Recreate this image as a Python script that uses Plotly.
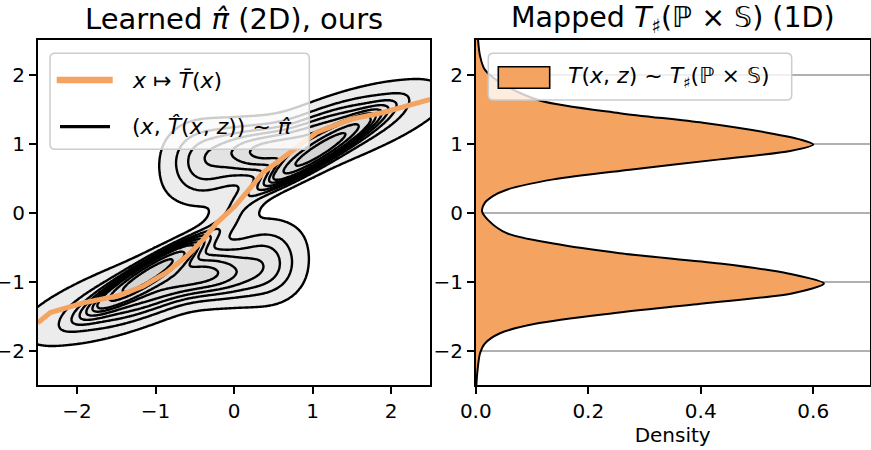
import numpy as np
import plotly.graph_objects as go

# ---------------- data ----------------
# conditional-mean curve x -> T̄(x)
mean_x = [-2.50, -2.34, -1.92, -1.49, -1.16, -0.86, -0.60, -0.39, -0.22, 0.01,
          0.16, 0.37, 0.54, 0.75, 1.05, 1.48, 1.90, 2.50]
mean_y = [-1.60, -1.45, -1.31, -1.21, -1.07, -0.87, -0.63, -0.39, -0.15, 0.09,
          0.29, 0.58, 0.72, 0.91, 1.16, 1.35, 1.45, 1.64]

# 1D density of the mapped samples (horizontal KDE)
dens_y = [2.50, 2.27, 2.07, 1.85, 1.62, 1.44, 1.30, 1.15, 1.06, 0.985, 0.89, 0.77,
          0.62, 0.48, 0.33, 0.24, 0.14, 0.02, -0.11, -0.30, -0.45, -0.59, -0.74,
          -0.88, -1.03, -1.17, -1.32, -1.46, -1.61, -1.75, -1.90, -2.04, -2.29, -2.50]
dens_v = [0.004, 0.0075, 0.016, 0.05, 0.115, 0.256, 0.404, 0.523, 0.576, 0.600,
          0.559, 0.434, 0.274, 0.138, 0.055, 0.031, 0.016, 0.011, 0.022, 0.055,
          0.138, 0.256, 0.434, 0.553, 0.619, 0.564, 0.404, 0.244, 0.108, 0.043,
          0.016, 0.0075, 0.003, 0.001]

# 2D joint density modelled as a Gaussian mixture (components estimated from the contours)
# upper blob: ridge, medium, envelope, lobe, lobe-extension; lower blob mirrored; neck
comp_w = [0.15, 0.12, 0.11, 0.07, 0.05,
          0.15, 0.12, 0.11, 0.07, 0.05,
          0.015]
comp_mx = [1.07, 1.00, 1.20, 0.20, -0.45,
           -1.07, -1.00, -1.20, -0.20, 0.45,
           0.00]
comp_my = [0.88, 1.12, 1.12, 0.95, 0.72,
           -0.88, -1.12, -1.12, -0.95, -0.72,
           0.00]
comp_s1 = [0.50, 0.70, 1.00, 0.40, 0.28,
           0.50, 0.70, 1.00, 0.40, 0.28,
           0.35]
comp_s2 = [0.09, 0.20, 0.26, 0.22, 0.33,
           0.09, 0.20, 0.26, 0.22, 0.33,
           0.14]
comp_ang = [36, 26, 21, 0, 0,
            36, 26, 21, 0, 0,
            52]

kde_levels = 10
kde_thresh = 0.05

x_ticks = [-2, -1, 0, 1, 2]
y_ticks = [-2, -1, 0, 1, 2]
dens_ticks = [0.0, 0.2, 0.4, 0.6]

# ---------------- density grid ----------------
gx = np.linspace(-3.2, 3.2, 321)
gy = np.linspace(-3.2, 3.2, 321)
X, Y = np.meshgrid(gx, gy)
Z = np.zeros_like(X)
for w, mx, my, s1, s2, a in zip(comp_w, comp_mx, comp_my, comp_s1, comp_s2, comp_ang):
    t = np.deg2rad(a)
    dx, dy = X - mx, Y - my
    u = dx * np.cos(t) + dy * np.sin(t)
    v = -dx * np.sin(t) + dy * np.cos(t)
    Z += w * np.exp(-0.5 * (u / s1) ** 2 - 0.5 * (v / s2) ** 2) / (2 * np.pi * s1 * s2)

# iso-proportion transform (as seaborn's kdeplot levels)
flat = Z.ravel()
order = np.argsort(flat)
cum = np.cumsum(flat[order])
cum /= cum[-1]
Q = np.empty_like(flat)
Q[order] = cum
Q = Q.reshape(Z.shape)

step = (1 - kde_thresh) / (kde_levels - 1)
grays = ["#ffffff", "#ececec", "#e9e9e9", "#e6e6e6", "#e3e3e3", "#e0e0e0",
         "#dddddd", "#dadada", "#d7d7d7", "#d4d4d4"]
cscale = [[i / (len(grays) - 1), c] for i, c in enumerate(grays)]

ORANGE = "#f4a460"
FONT = "DejaVu Sans"
W, H = 871, 450


def px(x):
    return x / W


def py(y):
    return 1 - y / H


fig = go.Figure()
fig.add_trace(go.Contour(
    x=gx, y=gy, z=Q,
    contours=dict(start=kde_thresh, end=1 - step / 2, size=step, coloring="fill"),
    colorscale=cscale, zmin=0, zmax=1, showscale=False,
    line=dict(color="black", width=2.4, smoothing=1),
    hoverinfo="skip", showlegend=False, xaxis="x", yaxis="y"))
fig.add_trace(go.Scatter(
    x=mean_x, y=mean_y, mode="lines", line=dict(color=ORANGE, width=5),
    showlegend=False, xaxis="x", yaxis="y"))
fig.add_trace(go.Scatter(
    x=dens_v, y=dens_y, mode="lines", fill="tozerox",
    fillcolor=ORANGE, line=dict(color="black", width=2, shape="spline", smoothing=0.8),
    showlegend=False, xaxis="x2", yaxis="y2"))

axis_common = dict(showline=True, mirror=True, linecolor="black", linewidth=1.6,
                   ticks="outside", ticklen=7, tickwidth=1.6, tickcolor="black",
                   zeroline=False, automargin=False,
                   tickfont=dict(family=FONT, size=20, color="black"))

ytop = py(40)
ybot = py(385)


def rounded_box(x0, y0, x1, y1, r=5):
    X0, X1 = px(x0), px(x1)
    Y0, Y1 = py(y0), py(y1)
    rx, ry = r / W, r / H
    return (f"M {X0+rx},{Y0} L {X1-rx},{Y0} Q {X1},{Y0} {X1},{Y0-ry} "
            f"L {X1},{Y1+ry} Q {X1},{Y1} {X1-rx},{Y1} L {X0+rx},{Y1} "
            f"Q {X0},{Y1} {X0},{Y1+ry} L {X0},{Y0-ry} Q {X0},{Y0} {X0+rx},{Y0} Z")


shapes = [
    # left legend frame and samples
    dict(type="path", path=rounded_box(50, 53.3, 309.3, 149.3), xref="paper", yref="paper",
         fillcolor="rgba(255,255,255,0.8)", line=dict(color="#cccccc", width=1.5)),
    dict(type="line", x0=px(56.7), x1=px(112.7), y0=py(80), y1=py(80), xref="paper",
         yref="paper", line=dict(color=ORANGE, width=6.5)),
    dict(type="line", x0=px(60), x1=px(110), y0=py(126.7), y1=py(126.7), xref="paper",
         yref="paper", line=dict(color="black", width=3.3)),
    # right legend frame and patch
    dict(type="path", path=rounded_box(488.3, 53.3, 791.7, 100), xref="paper", yref="paper",
         fillcolor="rgba(255,255,255,0.8)", line=dict(color="#cccccc", width=1.5)),
    dict(type="rect", x0=px(498.3), x1=px(549.7), y0=py(66.7), y1=py(88.3), xref="paper",
         yref="paper", fillcolor=ORANGE, line=dict(color="black", width=1.6)),
]

annotations = [
    dict(text="Learned <i>π̂</i> (2D), ours", x=px((37.8 + 430.3) / 2), y=py(19),
         xref="paper", yref="paper", showarrow=False, xanchor="center", yanchor="middle",
         font=dict(family=FONT, size=29, color="black")),
    dict(text="Mapped <i>T</i><sub>♯</sub>(ℙ × 𝕊) (1D)", x=px((475.8 + 869.5) / 2),
         y=py(19), xref="paper", yref="paper", showarrow=False, xanchor="center",
         yanchor="middle", font=dict(family=FONT, size=28.5, color="black")),
    dict(text="<i>x</i> ↦ <i>T̄</i>(<i>x</i>)", x=px(130), y=py(80), xref="paper",
         yref="paper", showarrow=False, xanchor="left", yanchor="middle",
         font=dict(family=FONT, size=22, color="black")),
    dict(text="(<i>x</i>, <i>T̂</i>(<i>x</i>, <i>z</i>)) ~ <i>π̂</i>", x=px(130), y=py(126.7),
         xref="paper", yref="paper", showarrow=False, xanchor="left", yanchor="middle",
         font=dict(family=FONT, size=22, color="black")),
    dict(text="<i>T</i>(<i>x</i>, <i>z</i>) ~ <i>T</i><sub>♯</sub>(ℙ × 𝕊)", x=px(566),
         y=py(77), xref="paper", yref="paper", showarrow=False, xanchor="left",
         yanchor="middle", font=dict(family=FONT, size=22, color="black")),
]

fig.update_layout(
    width=W, height=H, margin=dict(l=0, r=0, t=0, b=0, autoexpand=False),
    paper_bgcolor="white", plot_bgcolor="white",
    font=dict(family=FONT, color="black"), showlegend=False,
    xaxis=dict(domain=[px(37.8), px(430.3)], range=[-2.5, 2.5], tickvals=x_ticks,
               ticktext=["−2", "−1", "0", "1", "2"], showgrid=False, anchor="y", **axis_common),
    yaxis=dict(domain=[ybot, ytop], range=[-2.5, 2.5], tickvals=y_ticks,
               ticktext=["−2", "−1", "0", "1", "2"], showgrid=False, anchor="x", **axis_common),
    xaxis2=dict(domain=[px(475.8), px(869.5)], range=[0, 0.7], tickvals=dens_ticks,
                ticktext=["0.0", "0.2", "0.4", "0.6"], showgrid=False, anchor="y2",
                title=dict(text="Density", font=dict(family=FONT, size=20), standoff=4),
                **axis_common),
    yaxis2=dict(domain=[ybot, ytop], range=[-2.5, 2.5], tickvals=y_ticks,
                ticktext=["−2", "−1", "0", "1", "2"], showgrid=True, gridcolor="#b0b0b0",
                gridwidth=1.6, anchor="x2", **axis_common),
    shapes=shapes,
    annotations=annotations,
)

fig.write_html("out.html", config={"displayModeBar": False},
               post_script="document.body.style.margin='0';")
